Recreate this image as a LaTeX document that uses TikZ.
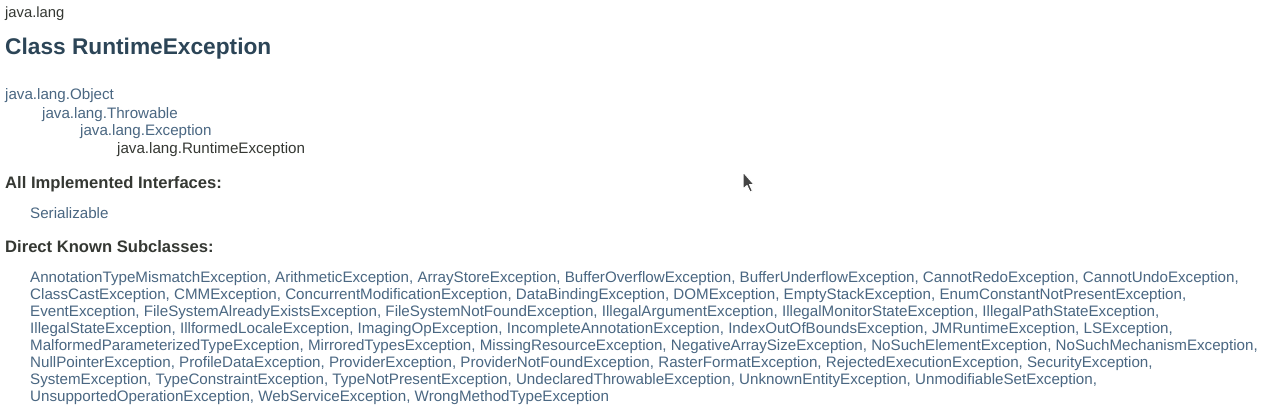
\documentclass[tikz,border=0pt]{standalone}
\usepackage{fontspec}
\setmainfont{Liberation Sans}
\definecolor{linkc}{HTML}{4A6782}
\definecolor{titlec}{HTML}{2C4557}
\definecolor{bodyc}{HTML}{353833}
\begin{document}
\begin{tikzpicture}[x=1pt,y=-1pt,
  txt/.style={anchor=base west,inner sep=0pt,font=\fontsize{15.15}{17}\selectfont,text=bodyc},
  lnk/.style={txt,text=linkc},
  hdr/.style={txt,font=\fontsize{16.6}{19}\selectfont\bfseries},
  ttl/.style={txt,font=\fontsize{22.7}{26}\selectfont\bfseries,text=titlec}]
\fill[white] (0,0) rectangle (1271,416);
\useasboundingbox (0,0) rectangle (1271,416);
\node[txt,font=\fontsize{14.8}{17}\selectfont] (pkg) at (5,17) {java.lang};
\node[ttl] (title) at (5,54) {Class RuntimeException};
\node[lnk] (obj) at (5,99) {java.lang.Object};
\node[lnk] (thr) at (42,118) {java.lang.Throwable};
\node[lnk] (exc) at (80,135) {java.lang.Exception};
\node[txt] (rte) at (117,153) {java.lang.RuntimeException};
\node[hdr] (aii) at (5,188) {All Implemented Interfaces:};
\node[lnk] (ser) at (30,218) {Serializable};
\node[hdr] (dks) at (5,252) {Direct Known Subclasses:};
\node[lnk] (l1) at (30,282) {AnnotationTypeMismatchException, ArithmeticException, ArrayStoreException, BufferOverflowException, BufferUnderflowException, CannotRedoException, CannotUndoException,};
\node[lnk] (l2) at (30,299) {ClassCastException, CMMException, ConcurrentModificationException, DataBindingException, DOMException, EmptyStackException, EnumConstantNotPresentException,};
\node[lnk] (l3) at (30,316) {EventException, FileSystemAlreadyExistsException, FileSystemNotFoundException, IllegalArgumentException, IllegalMonitorStateException, IllegalPathStateException,};
\node[lnk] (l4) at (30,333) {IllegalStateException, IllformedLocaleException, ImagingOpException, IncompleteAnnotationException, IndexOutOfBoundsException, JMRuntimeException, LSException,};
\node[lnk] (l5) at (30,350) {MalformedParameterizedTypeException, MirroredTypesException, MissingResourceException, NegativeArraySizeException, NoSuchElementException, NoSuchMechanismException,};
\node[lnk] (l6) at (30,367) {NullPointerException, ProfileDataException, ProviderException, ProviderNotFoundException, RasterFormatException, RejectedExecutionException, SecurityException,};
\node[lnk] (l7) at (30,384) {SystemException, TypeConstraintException, TypeNotPresentException, UndeclaredThrowableException, UnknownEntityException, UnmodifiableSetException,};
\node[lnk] (l8) at (30,401) {UnsupportedOperationException, WebServiceException, WrongMethodTypeException};
% mouse cursor
\draw[white,line width=1pt,fill={rgb,255:red,68;green,68;blue,68},line join=round]
  (743,172) -- (743,189) -- (747,185.5) -- (750,192) -- (752.5,191) -- (749.5,184.5) -- (754,184.5) -- cycle;
\end{tikzpicture}
\end{document}
